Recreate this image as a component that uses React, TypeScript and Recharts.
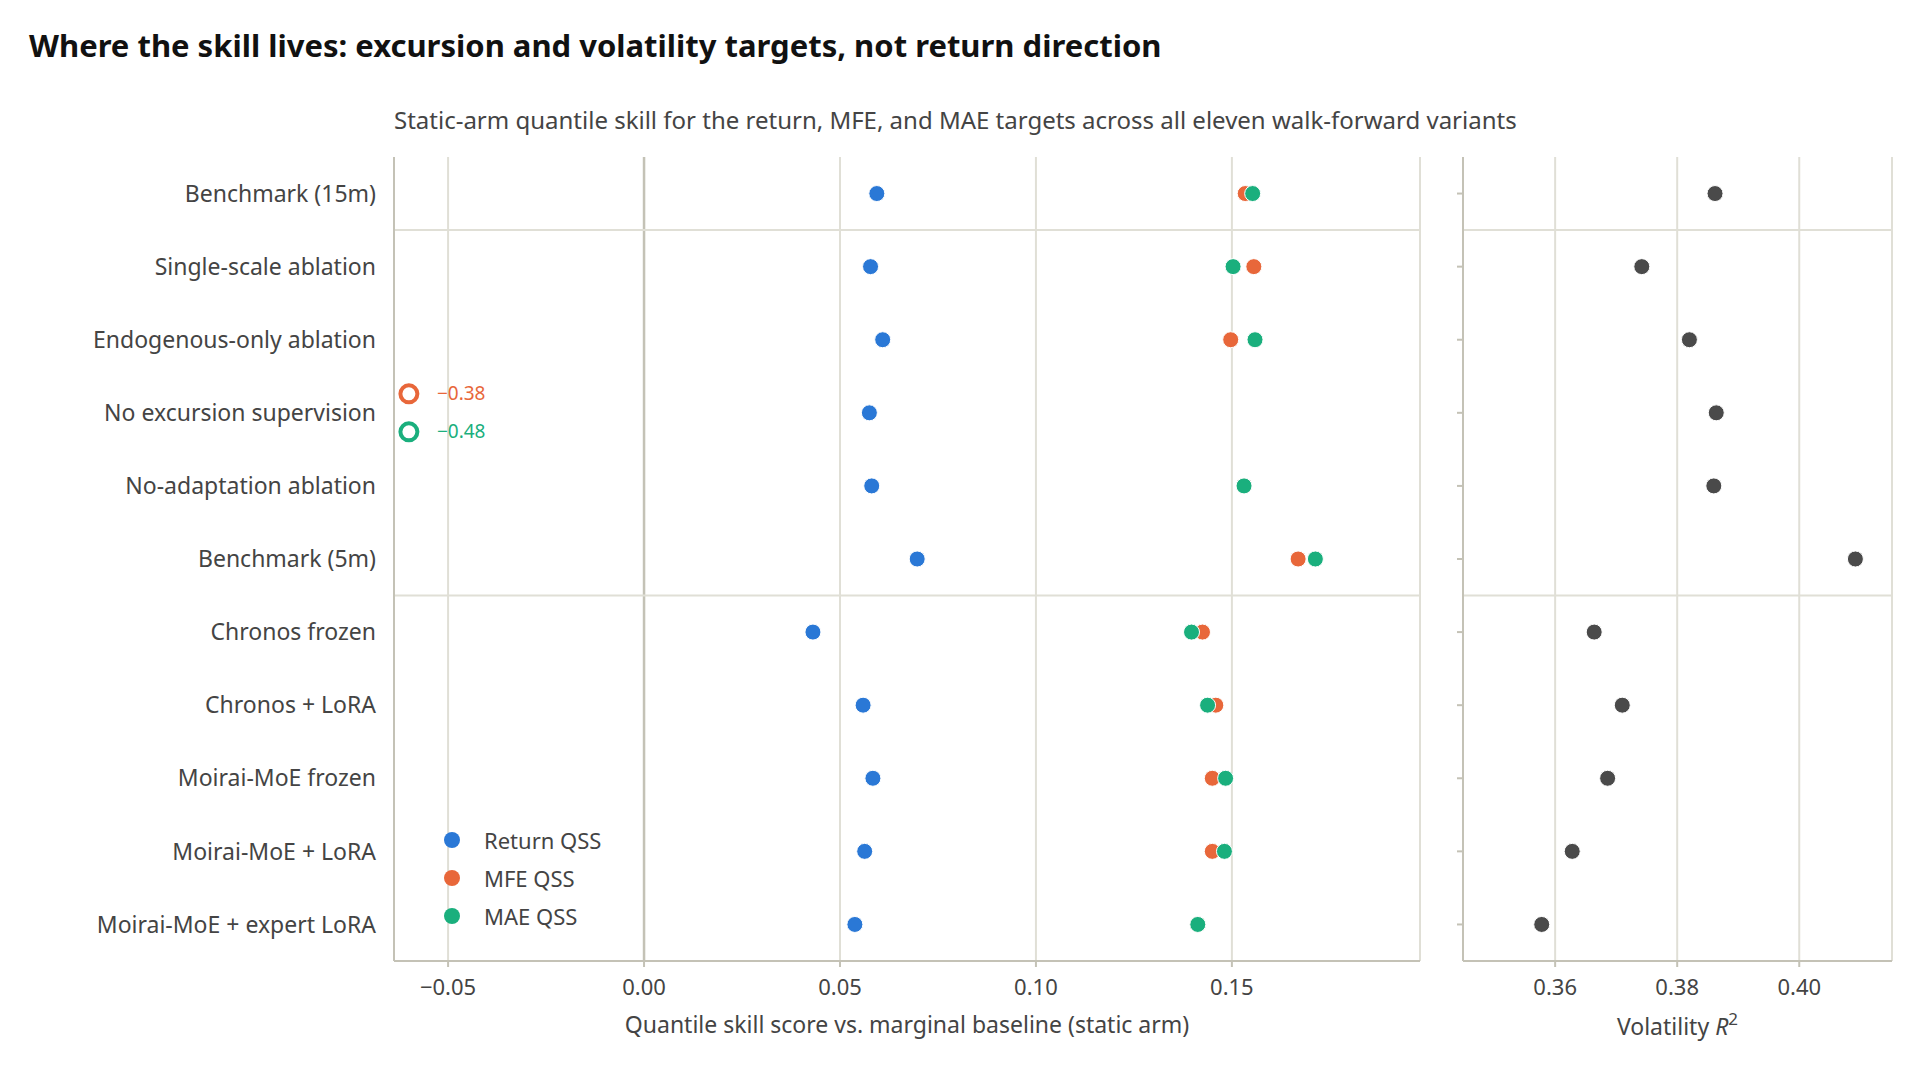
import React from "react";
import { ScatterChart, Scatter, XAxis, YAxis, CartesianGrid, ReferenceLine } from "recharts";

const categories = [
  "Benchmark (15m)", "Single-scale ablation", "Endogenous-only ablation", "No excursion supervision",
  "No-adaptation ablation", "Benchmark (5m)", "Chronos frozen", "Chronos + LoRA",
  "Moirai-MoE frozen", "Moirai-MoE + LoRA", "Moirai-MoE + expert LoRA",
];
const returnQss = [0.0594, 0.0578, 0.0609, 0.0575, 0.0581, 0.0697, 0.0431, 0.0559, 0.0584, 0.0563, 0.0538];
const mfeQss = [0.1534, 0.1556, 0.1497, -0.38, 0.1531, 0.1669, 0.1425, 0.1459, 0.145, 0.145, 0.1413];
const maeQss = [0.1553, 0.1503, 0.1559, -0.48, 0.1531, 0.1713, 0.1397, 0.1438, 0.1484, 0.1481, 0.1413];
const volR2 = [0.3862, 0.3742, 0.382, 0.3864, 0.386, 0.4092, 0.3664, 0.371, 0.3686, 0.3628, 0.3578];
const qssTicks = [-0.05, 0, 0.05, 0.1, 0.15];
const volTicks = [0.36, 0.38, 0.4];
const groupBreaks = [0.5, 5.5];

const QSS_DOMAIN: [number, number] = [-0.0638, 0.198];
const VOL_DOMAIN: [number, number] = [0.3449, 0.4152];
const OFF_X = -0.06;

const BLUE = "#2a78d6", ORANGE = "#e8673a", GREEN = "#1aaf7d", DARK = "#4a4a4a";
const GRID = "#e0dfd6", AXIS = "#c4c2b6", TXT = "#444";
const FONT = "'Noto Sans', 'Open Sans', sans-serif";

const pts = (arr: number[]) => arr.map((v, i) => ({ x: v, y: i })).filter((p) => p.x >= QSS_DOMAIN[0]);
const offPts = (arr: number[], color: string, dy: number) =>
  arr.map((v, i) => ({ x: OFF_X, y: i, v, color, dy })).filter((p) => p.v < QSS_DOMAIN[0]);

const fmt = (v: number) => (v < 0 ? "\u2212" + Math.abs(v).toFixed(2) : v.toFixed(2));

const Dot = (color: string) => (p: any) => <circle cx={p.cx} cy={p.cy} r={8} fill={color} stroke="#fff" strokeWidth={1} />;

const OffShape = (p: any) => {
  const d = p.payload;
  return (
    <g>
      <circle cx={p.cx} cy={p.cy + d.dy} r={8.5} fill="#fff" stroke={d.color} strokeWidth={4} />
      <text x={p.cx + 28} y={p.cy + d.dy} dy="0.35em" fill={d.color} fontSize={19} fontFamily={FONT}>{fmt(d.v)}</text>
    </g>
  );
};

const tickStyle = { fill: TXT, fontSize: 22, fontFamily: FONT };

export default function App() {
  return (
    <div style={{ position: "absolute", left: 0, top: 0, width: 1920, height: 1080, background: "#fff", fontFamily: FONT }}>
      <div style={{ position: "absolute", left: 29, top: 24, fontSize: 31, fontWeight: 700, color: "#111" }}>
        Where the skill lives: excursion and volatility targets, not return direction
      </div>
      <div style={{ position: "absolute", left: 394, top: 103, fontSize: 24, color: TXT }}>
        Static-arm quantile skill for the return, MFE, and MAE targets across all eleven walk-forward variants
      </div>
      <div style={{ position: "absolute", left: 0, top: 0 }}>
        <ScatterChart width={1440} height={1080} margin={{ left: 14, right: 20, top: 157, bottom: 69 }}>
          <CartesianGrid horizontal={false} stroke={GRID} strokeWidth={2} />
          <XAxis type="number" dataKey="x" domain={QSS_DOMAIN} ticks={qssTicks} allowDataOverflow
            tickFormatter={fmt} tick={tickStyle} stroke={AXIS} strokeWidth={2} height={50} tickMargin={12}
            label={{ value: "Quantile skill score vs. marginal baseline (static arm)", position: "insideBottom", offset: -22, fill: TXT, fontSize: 23, fontFamily: FONT }} />
          <YAxis type="number" dataKey="y" domain={[-0.5, 10.5]} reversed ticks={categories.map((_, i) => i)}
            tickFormatter={(i: number) => categories[i]} tick={{ ...tickStyle, fontSize: 23 }} width={380}
            tickLine={false} tickMargin={12} stroke={AXIS} strokeWidth={2} interval={0} />
          <ReferenceLine x={0} stroke={AXIS} strokeWidth={2.5} />
          {groupBreaks.map((b) => <ReferenceLine key={b} y={b} stroke={GRID} strokeWidth={2} />)}
          <Scatter data={pts(returnQss)} shape={Dot(BLUE)} isAnimationActive={false} />
          <Scatter data={pts(mfeQss)} shape={Dot(ORANGE)} isAnimationActive={false} />
          <Scatter data={pts(maeQss)} shape={Dot(GREEN)} isAnimationActive={false} />
          <Scatter data={[...offPts(mfeQss, ORANGE, -19), ...offPts(maeQss, GREEN, 19)]} shape={OffShape} isAnimationActive={false} />
        </ScatterChart>
      </div>
      <div style={{ position: "absolute", left: 1420, top: 0 }}>
        <ScatterChart width={500} height={1080} margin={{ left: 0, right: 28, top: 157, bottom: 69 }}>
          <CartesianGrid horizontal={false} stroke={GRID} strokeWidth={2} />
          <XAxis type="number" dataKey="x" domain={VOL_DOMAIN} ticks={volTicks} allowDataOverflow
            tickFormatter={(v: number) => v.toFixed(2)} tick={tickStyle} stroke={AXIS} strokeWidth={2} height={50} tickMargin={12}
            label={(props: any) => {
              const vb = props.viewBox;
              return (
                <text x={vb.x + vb.width / 2} y={vb.y + 74} textAnchor="middle" fill={TXT} fontSize={23} fontFamily={FONT}>
                  Volatility <tspan fontStyle="italic">R</tspan><tspan dy={-10} fontSize={17}>2</tspan>
                </text>
              );
            }} />
          <YAxis type="number" dataKey="y" domain={[-0.5, 10.5]} reversed ticks={categories.map((_, i) => i)}
            tickFormatter={() => ""} width={43} stroke={AXIS} strokeWidth={2} interval={0} />
          {groupBreaks.map((b) => <ReferenceLine key={b} y={b} stroke={GRID} strokeWidth={2} />)}
          <Scatter data={volR2.map((v, i) => ({ x: v, y: i }))} shape={Dot(DARK)} isAnimationActive={false} />
        </ScatterChart>
      </div>
      <div style={{ position: "absolute", left: 444, top: 821, fontSize: 22, color: TXT, lineHeight: "38px" }}>
        {[["Return QSS", BLUE], ["MFE QSS", ORANGE], ["MAE QSS", GREEN]].map(([l, c]) => (
          <div key={l} style={{ display: "flex", alignItems: "center" }}>
            <span style={{ width: 16, height: 16, borderRadius: 8, background: c, display: "inline-block", marginRight: 24 }} />
            {l}
          </div>
        ))}
      </div>
    </div>
  );
}
